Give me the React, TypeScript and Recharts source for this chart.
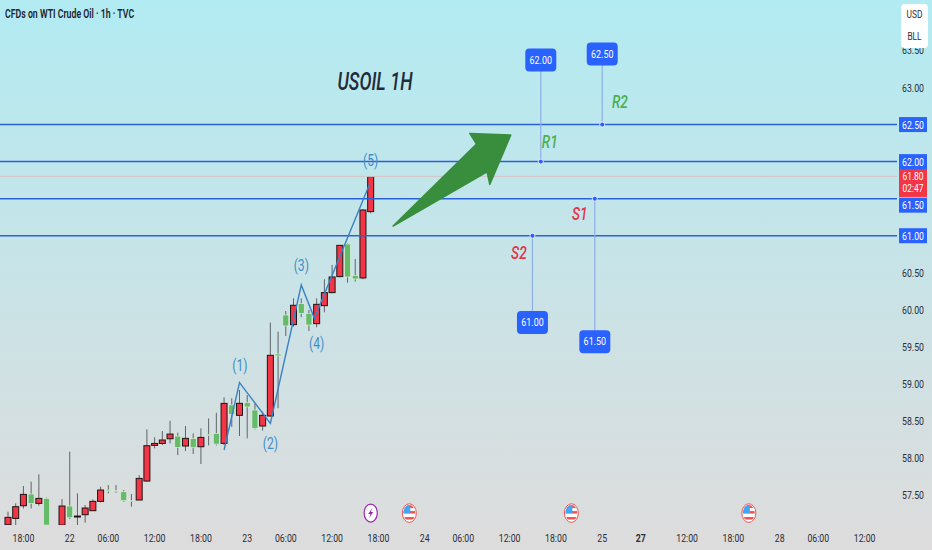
import React from "react";
import {
  Bar,
  ComposedChart,
  Line,
  ReferenceDot,
  ReferenceLine,
  XAxis,
  YAxis,
} from "recharts";

const FONT = "Roboto, sans-serif";
const UP = "#f23645";
const DOWN = "#66bb6a";
const BLUE = "#2962ff";
const BODY_WIDTH = 6;

// hourly slots, one is missing for the session break
const slots = [0, 1, 2, 3, 4, 5, 7, 8, 9, 10, 11, 12, 13, 14, 15, 16, 17, 18, 19, 20, 21, 22, 23, 24, 25, 26, 27, 28, 29, 30, 31, 32, 33, 34, 35, 36, 37, 38, 39, 40, 41, 42, 43, 44, 45, 46, 47];
const opens = [57.1, 57.185, 57.356, 57.514, 57.388, 57.455, 57.095, 57.352, 57.208, 57.235, 57.289, 57.415, 57.568, 57.559, 57.545, 57.424, 57.433, 57.689, 58.17, 58.197, 58.26, 58.296, 58.162, 58.265, 58.152, 58.319, 58.332, 58.197, 58.716, 58.576, 58.747, 58.648, 58.432, 58.567, 59.404, 59.93, 59.8, 60.083, 59.953, 59.813, 60.056, 60.232, 60.448, 60.888, 60.466, 60.43, 61.325];
const highs = [57.275, 57.388, 57.622, 57.68, 57.78, 57.464, 57.446, 58.085, 57.523, 57.365, 57.442, 57.613, 57.635, 57.635, 57.568, 57.514, 57.77, 58.386, 58.28, 58.364, 58.503, 58.341, 58.431, 58.332, 58.4, 58.535, 58.61, 58.818, 58.806, 58.918, 58.85, 58.738, 58.626, 59.827, 59.705, 59.984, 60.155, 60.155, 59.998, 60.155, 60.412, 60.605, 60.875, 60.897, 60.686, 61.356, 61.797];
const lows = [57.09, 57.095, 57.32, 57.32, 57.356, 57.095, 57.09, 57.176, 57.095, 57.127, 57.289, 57.4, 57.523, 57.53, 57.41, 57.343, 57.433, 57.68, 58.13, 58.175, 58.197, 58.04, 58.094, 58.054, 57.919, 58.17, 58.17, 58.175, 58.42, 58.297, 58.266, 58.387, 58.369, 58.558, 58.671, 59.647, 59.773, 59.9, 59.714, 59.764, 59.966, 60.223, 60.44, 60.367, 60.38, 60.412, 61.302];
const closes = [57.199, 57.343, 57.509, 57.388, 57.455, 57.095, 57.352, 57.194, 57.217, 57.325, 57.415, 57.568, 57.559, 57.545, 57.424, 57.415, 57.725, 58.166, 58.197, 58.243, 58.323, 58.144, 58.265, 58.139, 58.278, 58.305, 58.188, 58.737, 58.59, 58.738, 58.689, 58.401, 58.576, 59.386, 59.377, 59.782, 60.061, 59.953, 59.795, 60.074, 60.232, 60.443, 60.87, 60.443, 60.416, 61.347, 61.797];

const waveSlots = [28, 30, 34, 38, 39.7, 46.9];
const wavePrices = [58.108, 59.017, 58.468, 60.335, 59.885, 61.707];
const waveLabels = ["(1)", "(2)", "(3)", "(4)", "(5)"];
const waveLabelSlots = [30.05, 34, 38, 40, 47];
const waveLabelPrices = [59.255, 58.2, 60.6, 59.55, 62.02];

const levels = [62.5, 62, 61.5, 61];
const calloutPrices = [62, 62.5, 61.5, 61];
const calloutSlots = [69.04, 77, 76.04, 67.96];
const calloutBoxPrices = [63.371, 63.452, 59.57, 59.83];
const calloutNames = ["R1", "R2", "S1", "S2"];
const calloutNameSlots = [70.2, 79.3, 74.1, 66.2];
const calloutNamePrices = [62.28, 62.81, 61.3, 60.78];

const priceTicks = [57.5, 58, 58.5, 59, 59.5, 60, 60.5, 61, 61.5, 61.8, 62, 62.5, 63, 63.5];
const timeSlots = [2, 8, 13, 19, 25, 31, 36, 42, 48, 54, 59, 65, 71, 77, 82, 88, 94, 100, 105, 111];
const timeLabels = ["18:00", "22", "06:00", "12:00", "18:00", "23", "06:00", "12:00", "18:00", "24", "06:00", "12:00", "18:00", "25", "27", "12:00", "18:00", "28", "06:00", "12:00"];
const flagSlots = [52, 73, 96];

const candles = slots.map((slot, i) => ({
  slot,
  open: opens[i],
  high: highs[i],
  low: lows[i],
  close: closes[i],
}));
const wave = waveSlots.map((slot, i) => ({ slot, wave: wavePrices[i] }));

// the reference's glyphs are squeezed sideways, so text gets a horizontal scale
const Narrow = ({ x, y, sx = 0.76, children, ...rest }: any) => (
  <text
    transform={`translate(${x} ${y}) scale(${sx} 1)`}
    textAnchor="middle"
    fontFamily={FONT}
    {...rest}
  >
    {children}
  </text>
);

const Candle = (props: any) => {
  const { x, y, width, height, payload } = props;
  const { open, high, low, close } = payload;
  const perUnit = height / (high - low);
  const top = y + (high - Math.max(open, close)) * perUnit;
  const bodyH = Math.max(Math.abs(open - close) * perUnit, 1);
  const up = close >= open;
  const doji = Math.abs(close - open) < 0.02;
  const mid = x + width / 2;
  return (
    <g>
      <line x1={mid} x2={mid} y1={y} y2={y + height} stroke="#5f6468" strokeWidth={1} />
      <rect
        x={mid - BODY_WIDTH / 2}
        y={top}
        width={BODY_WIDTH}
        height={bodyH}
        fill={doji && !up ? DOWN : doji ? "#131722" : up ? UP : DOWN}
        stroke={up ? "#1f1416" : "#e4f3e5"}
        strokeWidth={up ? 1 : 0.6}
      />
    </g>
  );
};

const PriceTick = ({ y, payload }: any) => {
  const v = payload.value;
  const cx = 913;
  if (v === 61.8) {
    return (
      <g>
        <rect x={899} y={y - 7.5} width={28} height={28} fill="#f23645" />
        <Narrow x={cx} y={y + 3.5} fontSize={11} fill="#fff">61.80</Narrow>
        <Narrow x={cx} y={y + 16} fontSize={11} fill="#fff">02:47</Narrow>
      </g>
    );
  }
  const tagged = levels.includes(v);
  const shift = v === 61.5 ? 6.5 : 0;
  return (
    <g>
      {tagged && <rect x={899} y={y + shift - 7.5} width={28} height={15} fill={BLUE} />}
      <Narrow x={cx} y={y + shift + 4} fontSize={11.5} fill={tagged ? "#fff" : "#2a2e39"}>
        {v.toFixed(2)}
      </Narrow>
    </g>
  );
};

const TimeTick = ({ x, y, payload }: any) => {
  const label = timeLabels[timeSlots.indexOf(payload.value)];
  return (
    <Narrow
      x={x}
      y={y + 9}
      fontSize={11.5}
      fontWeight={label === "27" ? 700 : 400}
      fill="#2a2e39"
    >
      {label}
    </Narrow>
  );
};

const TextAt = (text: string, color: string, size: number, sx: number, italic = false, weight = 400) => (props: any) => (
  <Narrow
    x={props.cx}
    y={props.cy + size * 0.36}
    sx={sx}
    fontSize={size}
    fontStyle={italic ? "italic" : "normal"}
    fontWeight={weight}
    fill={color}
  >
    {text}
  </Narrow>
);

const PriceBox = (text: string) => (props: any) => (
  <g>
    <rect x={props.cx - 15.5} y={props.cy - 11.5} width={31} height={23} rx={4} fill={BLUE} />
    <Narrow x={props.cx} y={props.cy + 3.5} sx={0.85} fontSize={10.5} fill="#fff">
      {text}
    </Narrow>
  </g>
);

const ArrowShape = (props: any) => {
  const pts = [[0, 0], [83.4, -82], [76.7, -92.7], [117.7, -91], [96.7, -41.7], [94, -54.3]];
  return (
    <polygon
      points={pts.map(([a, b]) => `${props.cx + a},${props.cy + b}`).join(" ")}
      fill="#388e3c"
      stroke="#388e3c"
      strokeWidth={1.5}
      strokeLinejoin="round"
    />
  );
};

const FlagIcon = (props: any) => {
  const { cx, cy } = props;
  const id = `flag-${Math.round(cx)}`;
  return (
    <g>
      <clipPath id={id}>
        <ellipse cx={cx} cy={cy} rx={6} ry={8} />
      </clipPath>
      <ellipse cx={cx} cy={cy} rx={7} ry={9.3} fill="#fff" stroke="#ef5350" strokeWidth={1} />
      <g clipPath={`url(#${id})`}>
        <rect x={cx - 6} y={cy - 8} width={12} height={3} fill="#ef5350" />
        <rect x={cx - 6} y={cy - 2} width={12} height={2.5} fill="#ef5350" />
        <rect x={cx - 6} y={cy + 4} width={12} height={2.5} fill="#ef5350" />
        <rect x={cx - 6} y={cy - 8} width={7} height={8} fill="#42a5f5" />
      </g>
    </g>
  );
};

const BoltIcon = (props: any) => {
  const { cx, cy } = props;
  return (
    <g>
      <ellipse cx={cx} cy={cy} rx={6.6} ry={9} fill="#fff" stroke="#9c27b0" strokeWidth={1.2} />
      <polygon
        points={`${cx + 1.5},${cy - 5} ${cx - 2.5},${cy + 1} ${cx - 0.2},${cy + 1} ${cx - 1.5},${cy + 5} ${cx + 2.5},${cy - 1} ${cx + 0.2},${cy - 1}`}
        fill="#9c27b0"
      />
    </g>
  );
};

const squeezed: React.CSSProperties = { transform: "scaleX(0.76)" };

export default function App() {
  return (
    <div
      style={{
        position: "absolute",
        left: 0,
        top: 0,
        width: 932,
        height: 550,
        overflow: "hidden",
        background: "linear-gradient(180deg, #b2ebf2 0%, #dedcdc 100%)",
      }}
    >
      <ComposedChart
        width={932}
        height={550}
        data={candles}
        margin={{ top: 0, right: 0, bottom: 0, left: 0 }}
      >
        <XAxis
          type="number"
          dataKey="slot"
          domain={[-1.04, 115.2]}
          allowDataOverflow
          ticks={timeSlots}
          interval={0}
          axisLine={false}
          tickLine={false}
          height={25}
          tick={<TimeTick />}
        />
        <YAxis
          orientation="right"
          type="number"
          domain={[57.096, 64.181]}
          allowDataOverflow
          ticks={priceTicks}
          interval={0}
          axisLine={false}
          tickLine={false}
          width={35}
          tick={<PriceTick />}
        />
        <ReferenceLine y={61.8} stroke="#d3c4c8" strokeWidth={1} />
        {levels.map((p) => (
          <ReferenceLine key={p} y={p} stroke="#2b62dc" strokeWidth={1.5} />
        ))}
        <Line
          data={wave}
          dataKey="wave"
          stroke="#3b82c4"
          strokeWidth={1.4}
          dot={false}
          activeDot={false}
          isAnimationActive={false}
        />
        <Bar
          dataKey={(d: any) => [d.low, d.high]}
          barSize={6}
          shape={<Candle />}
          isAnimationActive={false}
        />
        {calloutNames.map((name, i) => (
          <ReferenceLine
            key={name}
            segment={[
              { x: calloutSlots[i], y: calloutPrices[i] },
              { x: calloutSlots[i], y: calloutBoxPrices[i] },
            ]}
            stroke="#8eaee8"
            strokeWidth={1.2}
          />
        ))}
        {calloutNames.map((name, i) => (
          <ReferenceDot
            key={name}
            x={calloutSlots[i]}
            y={calloutPrices[i]}
            r={2.5}
            fill={BLUE}
            stroke="#fff"
            strokeWidth={0.8}
          />
        ))}
        {calloutNames.map((name, i) => (
          <ReferenceDot
            key={name}
            x={calloutSlots[i]}
            y={calloutBoxPrices[i]}
            shape={PriceBox(calloutPrices[i].toFixed(2))}
          />
        ))}
        {calloutNames.map((name, i) => (
          <ReferenceDot
            key={name}
            x={calloutNameSlots[i]}
            y={calloutNamePrices[i]}
            shape={TextAt(name, name[0] === "R" ? "#4caf50" : "#e5354b", 19, 0.72, true, 500)}
          />
        ))}
        {waveLabels.map((label, i) => (
          <ReferenceDot
            key={label}
            x={waveLabelSlots[i]}
            y={waveLabelPrices[i]}
            shape={TextAt(label, "#3f8ec9", 16, 0.76)}
          />
        ))}
        <ReferenceDot x={47.55} y={63.09} shape={TextAt("USOIL 1H", "#232a38", 25, 0.72, true, 500)} />
        <ReferenceDot x={49.9} y={61.13} shape={<ArrowShape />} />
        <ReferenceDot x={47} y={57.257} shape={<BoltIcon />} />
        {flagSlots.map((s) => (
          <ReferenceDot key={s} x={s} y={57.257} shape={<FlagIcon />} />
        ))}
      </ComposedChart>
      <div
        style={{
          position: "absolute",
          left: 5,
          top: 6,
          fontFamily: FONT,
          fontSize: 12.5,
          fontWeight: 600,
          color: "#1b2430",
          whiteSpace: "nowrap",
          transform: "scaleX(0.7)",
          transformOrigin: "left center",
        }}
      >
        CFDs on WTI Crude Oil · 1h · TVC
      </div>
      <div
        style={{
          position: "absolute",
          left: 901,
          top: 4,
          width: 27,
          height: 44,
          borderRadius: 4,
          background: "#fff",
          fontFamily: FONT,
          fontSize: 11,
          color: "#2a2e39",
          textAlign: "center",
          lineHeight: "22px",
        }}
      >
        <div style={squeezed}>USD</div>
        <div style={squeezed}>BLL</div>
      </div>
    </div>
  );
}
